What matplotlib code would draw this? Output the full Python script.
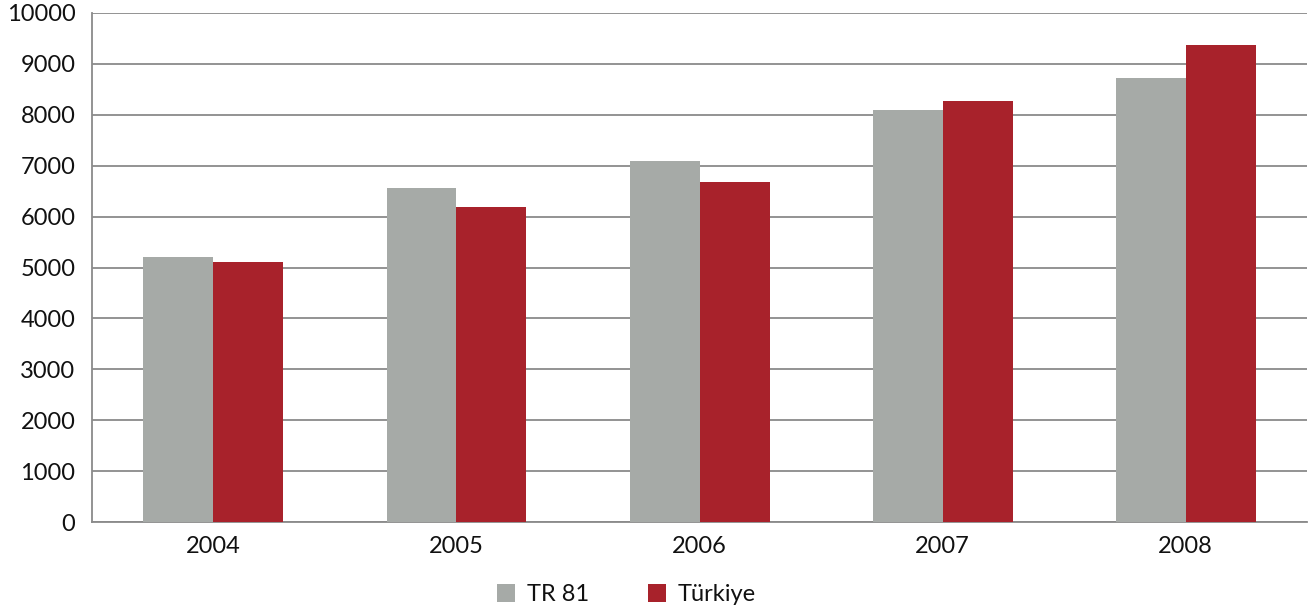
import numpy as np
import matplotlib.pyplot as plt

years = ['2004', '2005', '2006', '2007', '2008']
tr81 = [5200, 6570, 7100, 8100, 8730]
turkiye = [5100, 6180, 6680, 8270, 9380]

plt.rcParams['font.family'] = ['Lato', 'DejaVu Sans']

fig = plt.figure(figsize=(13.08, 6.07), dpi=100)
ax = fig.add_axes([0.0703, 0.140, 0.9290, 0.8386])

x = np.arange(len(years))
w = 0.288
ax.bar(x - w / 2, tr81, w, color='#a6aaa7', label='TR 81', zorder=3)
ax.bar(x + w / 2, turkiye, w, color='#a8222b', label='Türkiye', zorder=3)

ax.set_xlim(-0.5, len(years) - 0.5)
ax.set_ylim(0, 10000)
ax.set_yticks(range(0, 10001, 1000))
ax.set_xticks(x)
ax.set_xticklabels(years)
ax.grid(axis='y', color='#8a8a8a', linewidth=1.3, zorder=0)
ax.tick_params(axis='both', length=0, labelsize=17, colors='#111111')
ax.tick_params(axis='x', pad=10)
ax.tick_params(axis='y', pad=12)
for s in ['top', 'right']:
    ax.spines[s].set_visible(False)
for s in ['left', 'bottom']:
    ax.spines[s].set_color('#8a8a8a')
    ax.spines[s].set_linewidth(1.3)

ax.legend(loc='center', bbox_to_anchor=(0.44, -0.143), ncol=2, frameon=False,
          fontsize=17, handlelength=0.75, handleheight=0.75, columnspacing=2.5,
          handletextpad=0.5, labelcolor='#111111')

fig.savefig('out.png', dpi=100)
